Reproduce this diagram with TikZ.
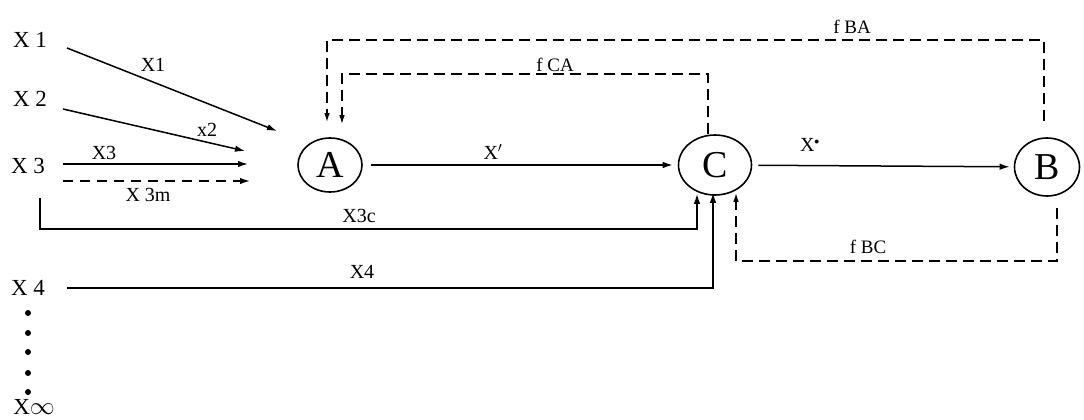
\documentclass[tikz,border=0pt]{standalone}
\usepackage{fontspec}
\setmainfont{Liberation Serif}
\usetikzlibrary{shapes.geometric,arrows.meta}
\begin{document}
\begin{tikzpicture}[x=1pt,y=-1pt,
  every node/.style={inner sep=0pt},
  proc/.style={draw,ellipse,line width=1.6pt,inner sep=0pt,font=\fontsize{38}{38}\selectfont},
  lbl/.style={font=\fontsize{23}{23}\selectfont},
  elbl/.style={font=\fontsize{20}{20}\selectfont},
  flbl/.style={font=\fontsize{19}{19}\selectfont},
  flow/.style={line width=1.5pt,-{Latex[length=10pt,width=6.5pt]}},
  fb/.style={line width=1.5pt,dash pattern=on 11pt off 6pt,-{Latex[length=9pt,width=5.5pt]}},
  dotm/.style={fill=black}
]
\useasboundingbox (0,0) rectangle (1084,420);
\fill[white] (0,0) rectangle (1084,420);

% process nodes
\node[proc,minimum width=64pt,minimum height=54pt] (A) at (330,165) {A};
\node[proc,minimum width=73pt,minimum height=60pt] (C) at (715,165) {C};
\node[proc,minimum width=65pt,minimum height=58pt] (B) at (1047,167) {B};

% input labels
\node[lbl] (X1) at (30,40) {X 1};
\node[lbl] (X2) at (30,99) {X 2};
\node[lbl] (X3) at (28,166) {X 3};
\node[lbl] (X4) at (28,288) {X 4};
\node[lbl] (Xinf) at (34,407) {X$\infty$};
\foreach \yy [count=\i] in {313,333,352,373,392}
  \fill[dotm] (28,\yy) circle (3);

% free ends
\coordinate (s1) at (67,48);  \coordinate (e1) at (277,131);
\coordinate (s2) at (63,109); \coordinate (e2) at (245,151);
\coordinate (s3) at (63,164); \coordinate (e3) at (248,164);
\coordinate (s3m) at (63,181); \coordinate (e3m) at (250,181);
\coordinate (s3c) at (40,198);
\coordinate (s4) at (67,288);

% input flows
\draw[flow] (s1) -- (e1);
\draw[flow] (s2) -- (e2);
\draw[flow] (s3) -- (e3);
\draw[flow,dash pattern=on 10pt off 7pt] (s3m) -- (e3m);
\draw[flow,shorten >=-2pt] (s3c) -- ++(0,31) -| ([xshift=-18pt]C.south);
\draw[flow,shorten >=-3pt] (s4) -| ([xshift=-2pt]C.south);

% edge labels
\node[elbl] (lX1) at (153,65) {X1};
\node[elbl] (lX2) at (207,130) {x2};
\node[elbl] (lX3) at (104,153) {X3};
\node[elbl] (lX3m) at (148,195) {X 3m};
\node[elbl] (lX3c) at (359,216) {X3c};
\node[elbl] (lX4) at (362,272) {X4};

% main flows
\draw[flow,shorten <=8pt,shorten >=5pt] (A) -- (C);
\draw[flow,shorten <=6pt,shorten >=4pt] (C) -- (B);
\node[elbl] (lXp) at (493,152) {X$'$};
\node[elbl] (lXpp) at (810,145) {X$^{\scriptscriptstyle\bullet}$};

% feedback loops
\draw[fb,shorten <=16pt,shorten >=15pt] ([xshift=-3pt]B.north) -- ++(0,-97) -| ([xshift=-3pt]A.north);
\draw[fb,shorten >=13pt] ([xshift=-7pt]C.north) -- ++(0,-60) -| ([xshift=12pt]A.north);
\draw[fb,shorten <=11pt,shorten >=-3pt] ([xshift=10pt]B.south) -- ++(0,64) -| ([xshift=21pt]C.south);
\node[flbl] (lBA) at (852,27) {f BA};
\node[flbl] (lCA) at (555,65) {f CA};
\node[flbl] (lBC) at (868,247) {f BC};
\end{tikzpicture}
\end{document}
